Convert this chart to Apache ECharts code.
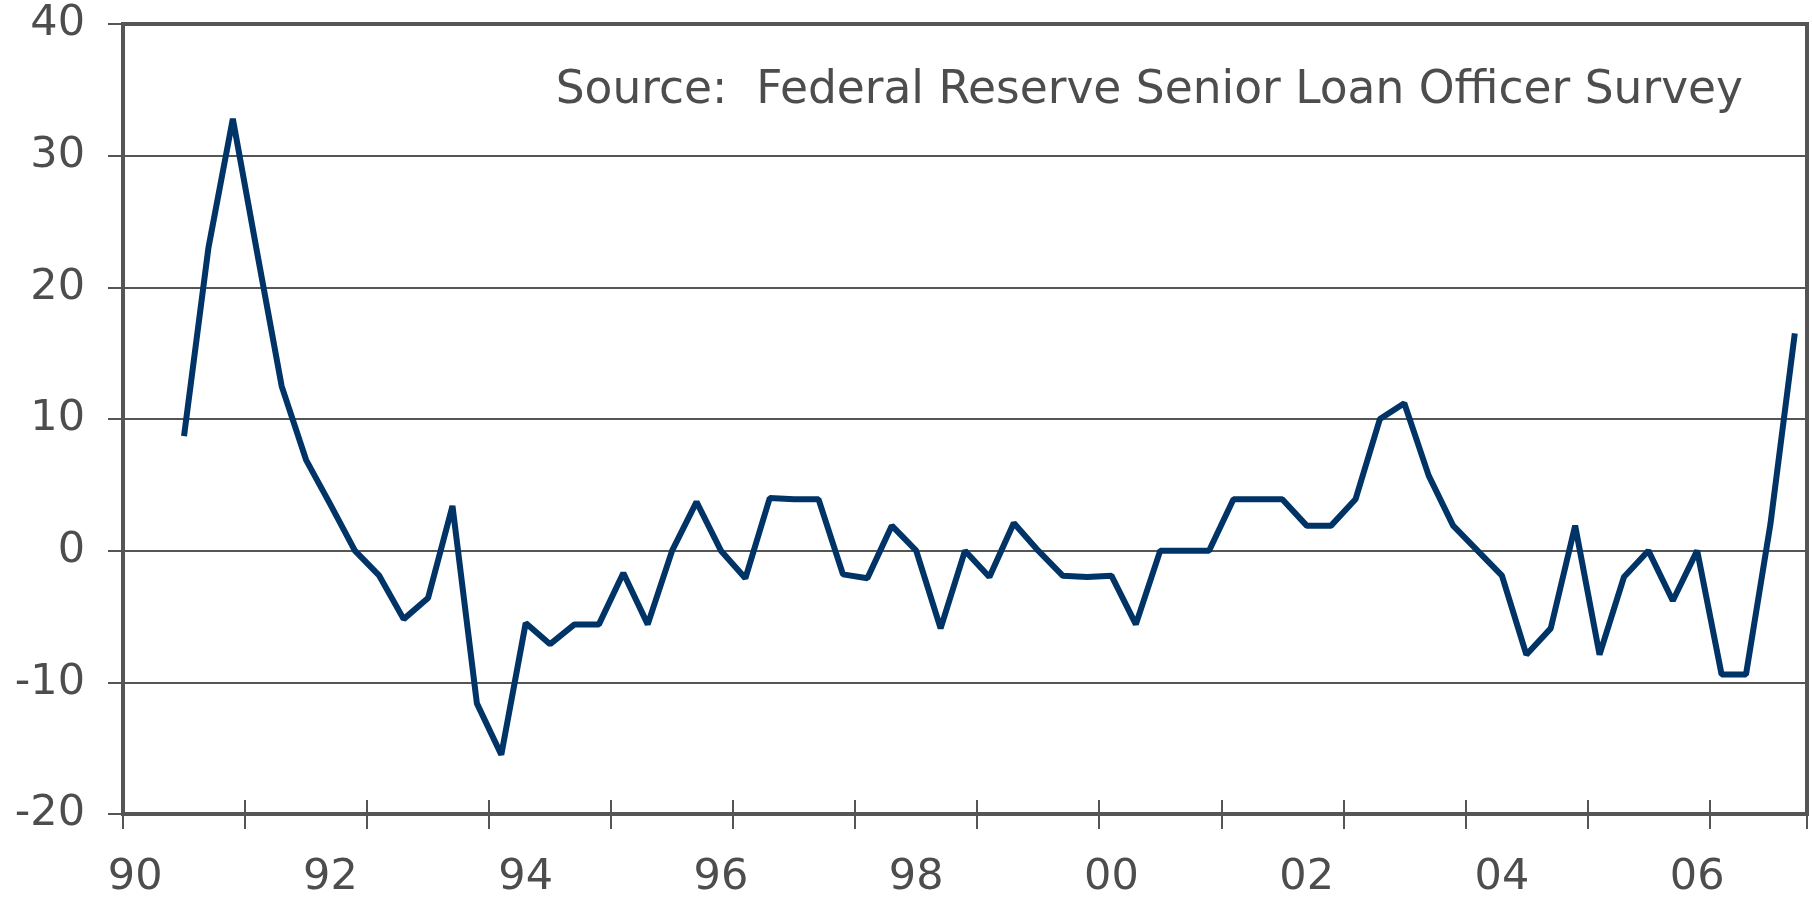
<!DOCTYPE html>
<html lang="en">
<head>
    <meta charset="utf-8">
    <title>Senior Loan Officer Survey</title>
    <script src="https://cdn.jsdelivr.net/npm/echarts@6/dist/echarts.min.js"></script>
    <style>
        html, body { margin: 0; padding: 0; background: #fff; }
    </style>
</head>
<body>
<div id="main" style="width: 1812px;height:898px;"></div>
<script type="text/javascript">
    // quarterly, 1990 Q1 .. 2007 Q1
    var years = ['90', '91', '92', '93', '94', '95', '96', '97', '98', '99',
                 '00', '01', '02', '03', '04', '05', '06', '07'];
    var quarters = [];
    years.forEach(function (y) {
        ['Q1', 'Q2', 'Q3', 'Q4'].forEach(function (q) { quarters.push(y + ' ' + q); });
    });
    quarters = quarters.slice(0, 69);

    // net % of banks tightening standards
    var values = [
        null, null, 8.7, 23.0, 32.8, 22.6, 12.5, 6.9, 3.5, 0,
        -1.9, -5.2, -3.6, 3.4, -11.6, -15.5, -5.5, -7.1, -5.6, -5.6,
        -1.7, -5.6, 0, 3.7, 0, -2.1, 4.0, 3.9, 3.9, -1.8,
        -2.1, 1.9, 0, -5.9, 0, -2.0, 2.1, 0, -1.9, -2.0,
        -1.9, -5.6, 0, 0, 0, 3.9, 3.9, 3.9, 1.9, 1.9,
        3.9, 10.0, 11.2, 5.7, 1.9, 0, -1.9, -7.9, -5.9, 1.9,
        -7.9, -2.0, 0, -3.8, 0, -9.4, -9.4, 2.0, 16.5
    ];

    var yTicks = [-20, -10, 0, 10, 20, 30, 40];
    var sourceText = 'Source:  Federal Reserve Senior Loan Officer Survey';

    var grey = '#555555';
    var textGrey = '#4d4d4d';
    var font = 'DejaVu Sans';

    var myChart = echarts.init(document.getElementById('main'));

    var option = {
        animation: false,
        backgroundColor: '#ffffff',
        grid: {
            left: 123, top: 24, right: 5, bottom: 84,
            outerBoundsMode: 'none',
            containLabel: false,
            show: true, borderColor: grey, borderWidth: 4
        },
        xAxis: [{
            type: 'category',
            data: quarters,
            boundaryGap: true,
            axisLine: { onZero: false, lineStyle: { color: grey, width: 4 } },
            axisTick: { show: true, interval: 4, length: 15, lineStyle: { color: grey, width: 2 } },
            axisLabel: {
                interval: 7,
                margin: 42,
                color: textGrey,
                fontFamily: font,
                fontSize: 43,
                formatter: function (v) { return v.slice(0, 2); }
            },
            splitLine: { show: false }
        }, {
            // inner half of the crossing ticks
            type: 'category',
            data: quarters,
            position: 'bottom',
            boundaryGap: true,
            axisLine: { show: false, onZero: false },
            axisTick: { show: true, inside: true, interval: 4, length: 14, lineStyle: { color: grey, width: 2 } },
            axisLabel: { show: false },
            splitLine: { show: false }
        }],
        yAxis: {
            type: 'value',
            min: yTicks[0],
            max: yTicks[yTicks.length - 1],
            interval: 10,
            axisLine: { show: true, lineStyle: { color: grey, width: 4 } },
            axisTick: { show: true, length: 15, lineStyle: { color: grey, width: 2 } },
            axisLabel: {
                margin: 38,
                color: textGrey,
                fontFamily: font,
                fontSize: 43,
                padding: [8, 0, 0, 0]
            },
            splitLine: { show: true, lineStyle: { color: grey, width: 2 } }
        },
        graphic: [{
            type: 'text',
            right: 69,
            top: 68,
            style: {
                text: sourceText,
                fill: textGrey,
                font: '45.5px "DejaVu Sans"'
            }
        }],
        series: [{
            type: 'line',
            data: values,
            symbol: 'none',
            connectNulls: false,
            lineStyle: { color: '#003366', width: 6 }
        }]
    };

    myChart.setOption(option);
</script>
</body>
</html>
